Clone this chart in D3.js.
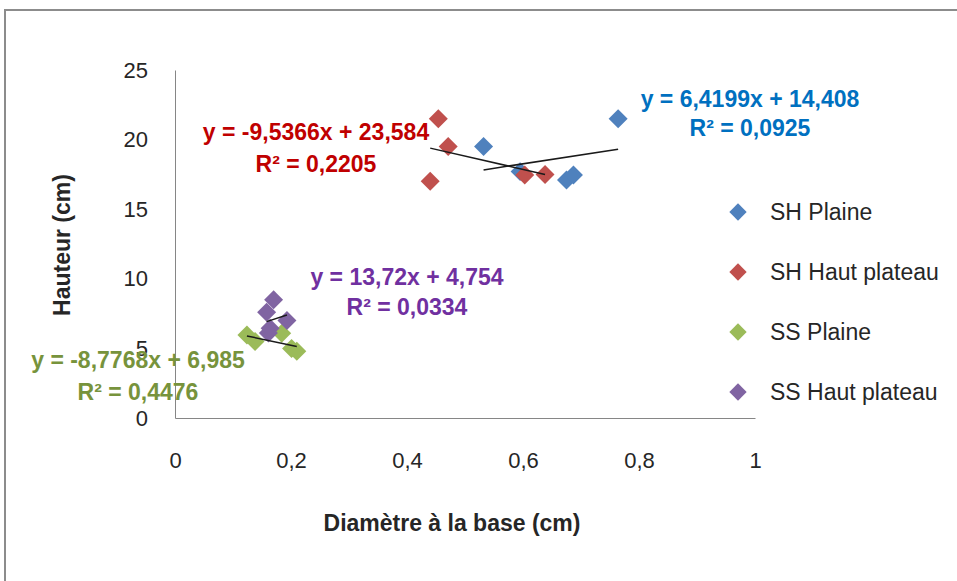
<!DOCTYPE html>
<html><head><meta charset="utf-8">
<script src="https://cdn.jsdelivr.net/npm/d3@7"></script>
<style>html,body{margin:0;padding:0;background:#fff;}svg{display:block;}</style>
</head><body>
<svg id="chart" width="957" height="581"></svg>
<script>
// ---- data ----
const seriesNames = ["SH Plaine", "SH Haut plateau", "SS Plaine", "SS Haut plateau"];
const shPlaineX = [0.532, 0.595, 0.675, 0.687, 0.764];
const shPlaineY = [19.5, 17.7, 17.1, 17.45, 21.5];
const shHautX = [0.454, 0.471, 0.440, 0.603, 0.638];
const shHautY = [21.5, 19.5, 17.0, 17.45, 17.5];
const ssPlaineX = [0.124, 0.138, 0.184, 0.201, 0.210];
const ssPlaineY = [5.96, 5.5, 6.08, 5.0, 4.8];
const ssHautX = [0.170, 0.158, 0.193, 0.164, 0.161];
const ssHautY = [8.5, 7.6, 7.0, 6.45, 6.1];
const trendSlopes = [6.4199, -9.5366, -8.7768, 13.72];
const trendIntercepts = [14.408, 23.584, 6.985, 4.754];
const trendR2 = ["0,0925", "0,2205", "0,4476", "0,0334"];
const eqTexts = ["y = 6,4199x + 14,408", "y = -9,5366x + 23,584", "y = -8,7768x + 6,985", "y = 13,72x + 4,754"];
const xTicks = [0, 0.2, 0.4, 0.6, 0.8, 1];
const yTicks = [0, 5, 10, 15, 20, 25];
const xTitle = "Diamètre à la base (cm)";
const yTitle = "Hauteur (cm)";

// ---- styles ----
const markerColors = ["#4F81BD", "#C0504D", "#9BBB59", "#8064A2"];
const labelColors = ["#0070C0", "#C00000", "#77933C", "#7030A0"];
const labelPos = [[750, 107, 136], [316, 140, 172], [138, 368, 400], [407, 285, 315]];
const FONT = "'Liberation Sans', Arial, sans-serif";

const svg = d3.select("#chart");
const xs = [shPlaineX, shHautX, ssPlaineX, ssHautX];
const ys = [shPlaineY, shHautY, ssPlaineY, ssHautY];

// frame
svg.append("rect").attr("x", 5).attr("y", 10).attr("width", 970).attr("height", 600)
  .attr("fill", "none").attr("stroke", "#8c8c8c").attr("stroke-width", 2);

const x = d3.scaleLinear().domain([0, 1]).range([175, 755]);
const y = d3.scaleLinear().domain([0, 25]).range([418, 70]);

// axes
const gx = svg.append("g").attr("transform", `translate(0,${y(0)})`)
  .call(d3.axisBottom(x).tickValues(xTicks).tickSize(0).tickPadding(34)
    .tickFormat(d => d3.format("")(d).replace(".", ",")));
gx.select(".domain").attr("stroke", "#868686");
gx.selectAll("text").attr("font-family", FONT).attr("font-size", 22).attr("fill", "#262626");

const gy = svg.append("g").attr("transform", `translate(${x(0)},0)`)
  .call(d3.axisLeft(y).tickValues(yTicks).tickSize(0).tickPadding(27));
gy.select(".domain").attr("stroke", "#868686");
gy.selectAll("text").attr("font-family", FONT).attr("font-size", 22).attr("fill", "#262626");

// axis titles
svg.append("text").attr("x", 452).attr("y", 531).attr("text-anchor", "middle")
  .attr("font-family", FONT).attr("font-weight", "bold").attr("font-size", 23).attr("fill", "#262626")
  .text(xTitle);
svg.append("text").attr("transform", "translate(70,245) rotate(-90)").attr("text-anchor", "middle")
  .attr("font-family", FONT).attr("font-weight", "bold").attr("font-size", 23).attr("fill", "#262626")
  .text(yTitle);

const diamond = d3.symbol().type(d3.symbolSquare).size(180);

// points
seriesNames.forEach((name, i) => {
  svg.append("g").selectAll("path").data(xs[i].map((v, k) => [v, ys[i][k]])).join("path")
    .attr("d", diamond)
    .attr("transform", d => `translate(${x(d[0])},${y(d[1])}) rotate(45)`)
    .attr("fill", markerColors[i]);
});

// trendlines
seriesNames.forEach((name, i) => {
  const [x0, x1] = d3.extent(xs[i]);
  svg.append("line")
    .attr("x1", x(x0)).attr("y1", y(trendSlopes[i] * x0 + trendIntercepts[i]))
    .attr("x2", x(x1)).attr("y2", y(trendSlopes[i] * x1 + trendIntercepts[i]))
    .attr("stroke", "#1a1a1a").attr("stroke-width", 1.5);
});

// equation labels
seriesNames.forEach((name, i) => {
  const [cx, b1, b2] = labelPos[i];
  svg.append("text").attr("x", cx).attr("y", b1).attr("text-anchor", "middle")
    .attr("font-family", FONT).attr("font-weight", "bold").attr("font-size", 23).attr("fill", labelColors[i])
    .text(eqTexts[i]);
  svg.append("text").attr("x", cx).attr("y", b2).attr("text-anchor", "middle")
    .attr("font-family", FONT).attr("font-weight", "bold").attr("font-size", 23).attr("fill", labelColors[i])
    .text("R² = " + trendR2[i]);
});

// legend
const legend = svg.append("g");
seriesNames.forEach((name, i) => {
  const ly = 212 + i * 60;
  legend.append("path").attr("d", d3.symbol().type(d3.symbolSquare).size(150)())
    .attr("transform", `translate(738,${ly}) rotate(45)`).attr("fill", markerColors[i]);
  legend.append("text").attr("x", 770).attr("y", ly + 8)
    .attr("font-family", FONT).attr("font-size", 23).attr("fill", "#262626").text(name);
});
</script>
</body></html>
